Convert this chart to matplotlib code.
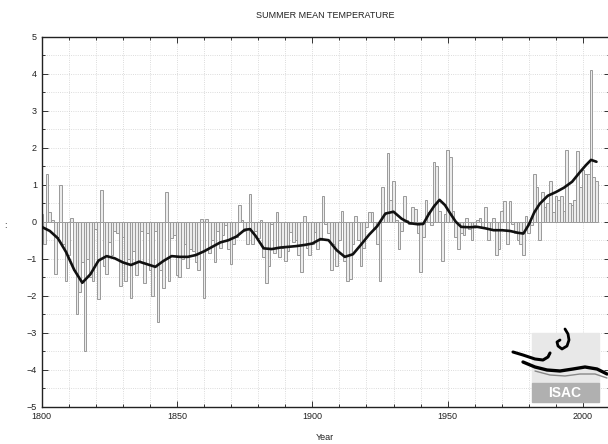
# Summer mean temperature anomalies with low-pass curve
import numpy as np
import matplotlib
matplotlib.use('Agg')
import matplotlib.pyplot as plt
from matplotlib.patches import Rectangle

plt.rcParams['font.family'] = ['Liberation Sans', 'DejaVu Sans']

# yearly anomalies (deg C), 1800-2005
years = np.arange(1800, 2006)
anom = [
  0.2, -0.6, 1.3, 0.25, 0.05, -1.4, -0.4, 1.0, -0.6, -1.6,      # 1800
  -0.9, 0.1, -1.3, -2.5, -1.9, -1.1, -3.5, -1.0, -1.5, -1.6,    # 1810
  -0.2, -2.1, 0.85, -1.2, -1.4, -0.55, -0.9, -0.25, -0.3, -1.75, # 1820
  -0.4, -1.6, -1.0, -2.05, -0.8, -1.45, -1.1, -0.25, -1.65, -0.3, # 1830
  -1.3, -2.0, -0.25, -2.7, -1.3, -1.8, 0.8, -1.6, -0.45, -0.35,  # 1840
  -1.45, -1.5, -1.0, -0.6, -1.25, -0.75, -0.8, -1.1, -1.3, 0.07, # 1850
  -2.05, 0.07, -0.85, -0.5, -1.1, -0.25, -0.7, -0.35, -0.1, -0.75, # 1860
  -1.15, -0.6, -0.4, 0.45, 0.05, -0.25, -0.6, 0.75, -0.6, -0.25, # 1870
  -0.45, 0.05, -0.95, -1.65, -1.2, -0.05, -0.85, 0.27, -0.95, -0.7, # 1880
  -1.05, -0.8, -0.27, -0.55, -0.5, -0.9, -1.35, 0.15, -0.7, -0.9, # 1890
  -0.6, -0.27, -0.75, -0.5, 0.7, -0.05, -0.3, -1.3, -0.6, -1.2,  # 1900
  -0.5, 0.3, -1.05, -1.6, -1.55, -0.6, 0.15, -0.5, -1.2, -0.7,   # 1910
  -0.15, 0.27, 0.27, -0.2, -0.6, -1.6, 0.95, 0.2, 1.85, 0.6,     # 1920
  1.1, 0.05, -0.75, -0.25, 0.7, 0.05, -0.05, 0.4, 0.35, -0.3,    # 1930
  -1.35, -0.4, 0.6, 0.25, -0.1, 1.6, 1.5, 0.3, -1.05, 0.2,       # 1940
  1.95, 1.75, 0.3, -0.4, -0.75, -0.3, -0.35, 0.1, -0.2, -0.5,    # 1950
  -0.1, 0.05, 0.1, -0.15, 0.4, -0.5, -0.2, 0.1, -0.9, -0.75,     # 1960
  0.3, 0.55, -0.6, 0.55, -0.05, -0.3, -0.5, -0.6, -0.9, 0.15,    # 1970
  -0.3, -0.1, 1.3, 0.95, -0.5, 0.8, 0.4, 0.5, 1.1, 0.25,         # 1980
  0.7, 0.6, 0.7, 0.3, 1.95, 0.5, 0.45, 0.6, 1.9, 0.95,           # 1990
  1.4, 1.3, 1.3, 4.1, 1.2, 1.1,                                  # 2000
]

# smoothed curve
smooth_years = [1800, 1803, 1806, 1809, 1812, 1815, 1818, 1821, 1824, 1827,
                1830, 1833, 1836, 1839, 1842, 1845, 1848, 1851, 1854, 1857,
                1860, 1863, 1866, 1869, 1872, 1875, 1877, 1879, 1882, 1885,
                1888, 1891, 1894, 1897, 1900, 1903, 1906, 1909, 1912, 1915,
                1918, 1921, 1924, 1927, 1930, 1933, 1936, 1939, 1941, 1943,
                1945, 1947, 1949, 1951, 1953, 1955, 1958, 1961, 1964, 1967,
                1970, 1973, 1976, 1978, 1980, 1982, 1984, 1987, 1990, 1993,
                1996, 1999, 2001, 2003, 2005]
smooth_vals = [-0.14, -0.25, -0.45, -0.82, -1.3, -1.65, -1.42, -1.05, -0.93, -0.99,
               -1.1, -1.17, -1.08, -1.15, -1.22, -1.06, -0.93, -0.95, -0.95, -0.9,
               -0.8, -0.68, -0.56, -0.5, -0.4, -0.22, -0.2, -0.38, -0.72, -0.74,
               -0.7, -0.68, -0.66, -0.63, -0.59, -0.47, -0.5, -0.77, -0.95, -0.88,
               -0.62, -0.35, -0.12, 0.22, 0.27, 0.08, -0.04, -0.07, -0.06, 0.2,
               0.42, 0.59, 0.45, 0.22, 0.0, -0.14, -0.15, -0.14, -0.18, -0.23,
               -0.23, -0.25, -0.3, -0.32, -0.08, 0.25, 0.48, 0.7, 0.8, 0.92,
               1.08, 1.35, 1.52, 1.67, 1.62]

xticks = [1800, 1850, 1900, 1950, 2000]
yticks = [-5, -4, -3, -2, -1, 0, 1, 2, 3, 4, 5]

W, H = 608, 444
fig = plt.figure(figsize=(W / 100, H / 100), dpi=100)
ax = fig.add_axes([41.7 / W, 1 - 406.7 / H, (610 - 41.7) / W, (406.7 - 36.7) / H])

ax.bar(years, anom, width=1.0, color='#ececec', edgecolor='#9a9a9a',
       linewidth=0.7, zorder=2)
ax.plot(smooth_years, smooth_vals, color='#111111', lw=1.9, zorder=3,
        solid_joinstyle='round', solid_capstyle='round')

ax.set_xlim(1800, 2010)
ax.set_ylim(-5, 5)
ax.set_xticks(xticks)
ax.set_xticks(np.arange(1800, 2011, 10), minor=True)
ax.set_yticks(yticks)
ax.set_yticks(np.arange(-5, 5.01, 0.5), minor=True)
ax.grid(which='both', color='#d0d0d0', linestyle=':', linewidth=0.6, zorder=0)
ax.set_axisbelow(True)
ax.tick_params(which='both', direction='in', top=True, right=True,
               labelsize=6.5, labelcolor='#222222', width=0.7, color='#333333')
ax.tick_params(which='major', length=4)
ax.tick_params(which='minor', length=2.5)
for s in ax.spines.values():
  s.set_linewidth(1.0)
  s.set_color('#222222')

fig.text(325 / W, 1 - 16 / H, 'SUMMER MEAN TEMPERATURE', ha='center', va='center',
         fontsize=6.5, color='#222222')
fig.text(325 / W, 1 - 437 / H, 'Year', ha='center', va='center',
         fontsize=6.5, color='#222222')
fig.text(5 / W, 1 - 225 / H, ':', ha='center', va='center', fontsize=6.5,
         color='#333333')

# ISAC logo, bottom right (decoration)
lg = fig.add_axes([505 / W, 1 - 405 / H, 103 / W, 80 / H])
lg.set_xlim(0, 103)
lg.set_ylim(80, 0)
lg.axis('off')
lg.add_patch(Rectangle((27, 8), 67, 50, color='#e8e8e8', zorder=1))
lg.add_patch(Rectangle((27, 58), 67, 19, color='#b0b0b0', zorder=1))
lg.text(60, 68, 'ISAC', ha='center', va='center', fontsize=10,
        fontweight='bold', color='white', zorder=3)
kw = dict(solid_capstyle='round', solid_joinstyle='round', zorder=2)
lg.plot([8, 18, 30, 38, 43, 45], [27, 30, 34, 35, 32, 28], color='black', lw=2.2, **kw)
lg.plot([18, 30, 42, 55, 68, 80, 92, 102], [37, 42, 45, 46, 44, 42, 44, 49],
        color='black', lw=2.4, **kw)
lg.plot([30, 45, 60, 75, 90, 102], [46, 50, 51, 49, 49, 53], color='#888888', lw=1.0, **kw)
lg.plot([60, 63, 64, 62, 57, 53, 52, 55], [4, 9, 15, 21, 24, 21, 17, 15],
        color='black', lw=2.0, **kw)

plt.savefig('out.png', dpi=100)
